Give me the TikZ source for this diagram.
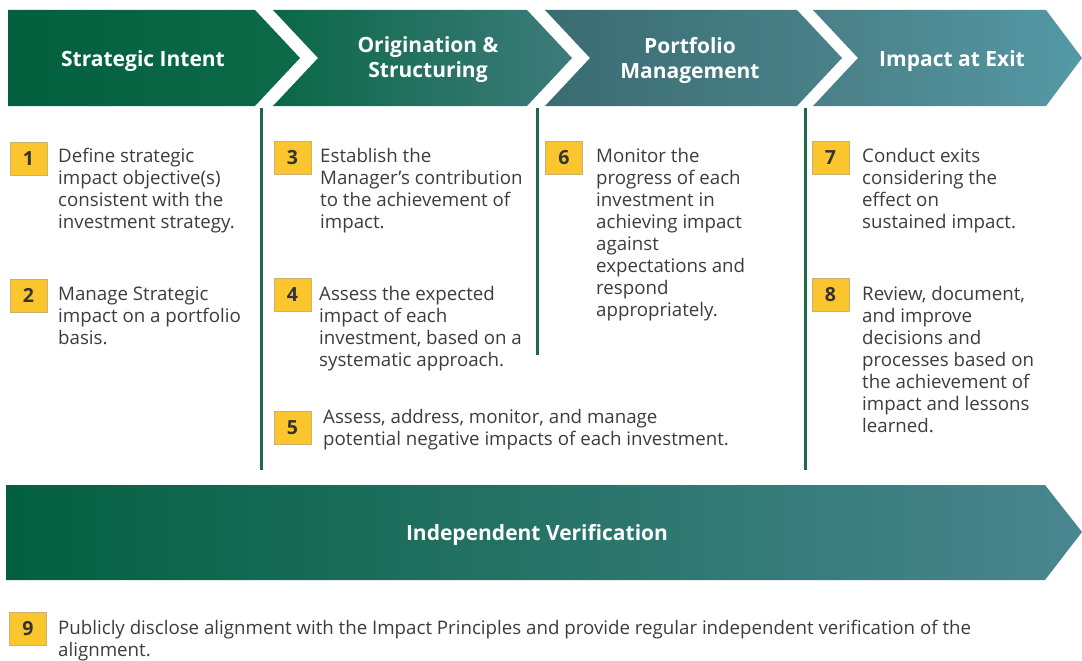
\documentclass[tikz,border=0pt]{standalone}
\usepackage{fontspec}
\setmainfont{Open Sans}
\definecolor{cAa}{HTML}{03603F}
\definecolor{cAb}{HTML}{0C6A48}
\definecolor{cBa}{HTML}{0A6846}
\definecolor{cBb}{HTML}{3E7B7C}
\definecolor{cCa}{HTML}{3A6C72}
\definecolor{cCb}{HTML}{4A8289}
\definecolor{cDa}{HTML}{4A7F86}
\definecolor{cDb}{HTML}{5499A6}
\definecolor{vfa}{HTML}{03603F}
\definecolor{vfb}{HTML}{4A8690}
\definecolor{boxyellow}{HTML}{FBC52E}
\definecolor{boxedge}{HTML}{C9B27A}
\definecolor{numgrey}{HTML}{333333}
\definecolor{bodygrey}{HTML}{3C3C3C}
\definecolor{rule}{HTML}{1C6A4C}
\tikzset{
  numbox/.style={fill=boxyellow, draw=boxedge, line width=0.8pt, minimum width=37pt, minimum height=33pt, inner sep=0pt, font=\fontsize{19.5}{19.5}\selectfont\bfseries, text=numgrey},
  body/.style={anchor=base west, align=left, inner sep=0pt, font=\fontsize{18.7}{22}\selectfont, text=bodygrey},
  head/.style={align=center, inner sep=0pt, font=\fontsize{21}{25}\selectfont\bfseries, text=white},
  colrule/.style={draw=rule, line width=3pt},
}
\begin{document}
\begin{tikzpicture}[x=1pt,y=-1pt]
\useasboundingbox (0,0) rectangle (1082,661);
% chevrons
\shade[left color=cAa, right color=cAb] (8,10) -- (255,10) -- (300,58) -- (255,106) -- (8,106) -- cycle;
\shade[left color=cBa, right color=cBb] (273,10) -- (527,10) -- (572,58) -- (527,106) -- (273,106) -- (318,58) -- cycle;
\shade[left color=cCa, right color=cCb] (545,10) -- (797,10) -- (842,58) -- (797,106) -- (545,106) -- (590,58) -- cycle;
\shade[left color=cDa, right color=cDb] (813,10) -- (1046,10) -- (1082,58) -- (1046,106) -- (813,106) -- (858,58) -- cycle;
\node[head] (h1) at (143,61) {Strategic Intent};
\node[head] (h2) at (428,60) {Origination \&\\Structuring};
\node[head] (h3) at (690,60) {Portfolio\\Management};
\node[head] (h4) at (952,61) {Impact at Exit};
% column rules
\coordinate (r1a) at (261,108); \coordinate (r1b) at (261,470);
\coordinate (r2a) at (537,108); \coordinate (r2b) at (537,355);
\coordinate (r3a) at (805,108); \coordinate (r3b) at (805,470);
\draw[colrule] (r1a) -- (r1b);
\draw[colrule] (r2a) -- (r2b);
\draw[colrule] (r3a) -- (r3b);
% items
\node[numbox] (n1) at (28.5,158.5) {1};
\node[body] (t1) at (58,228) {Define strategic\\impact objective(s)\\consistent with the\\investment strategy.};
\node[numbox] (n2) at (28.5,295.5) {2};
\node[body] (t2) at (58,344) {Manage Strategic\\impact on a portfolio\\basis.};
\node[numbox] (n3) at (292.5,157.5) {3};
\node[body] (t3) at (320,228) {Establish the\\Manager’s contribution\\to the achievement of\\impact.};
\node[numbox] (n4) at (292.5,295) {4};
\node[body] (t4) at (319,366) {Assess the expected\\impact of each\\investment, based on a\\systematic approach.};
\node[numbox] (n5) at (292.5,428) {5};
\node[body] (t5) at (323,445) {Assess, address, monitor, and manage\\potential negative impacts of each investment.};
\node[numbox] (n6) at (564,157.5) {6};
\node[body] (t6) at (596,316) {Monitor the\\progress of each\\investment in\\achieving impact\\against\\expectations and\\respond\\appropriately.};
\node[numbox] (n7) at (830.5,157.5) {7};
\node[body] (t7) at (862,228) {Conduct exits\\considering the\\effect on\\sustained impact.};
\node[numbox] (n8) at (830.5,295) {8};
\node[body] (t8) at (862,432) {Review, document,\\and improve\\decisions and\\processes based on\\the achievement of\\impact and lessons\\learned.};
% bottom banner
\shade[left color=vfa, right color=vfb] (6,485) -- (1045,485) -- (1082,532) -- (1045,580) -- (6,580) -- cycle;
\node[head] (hv) at (537,535) {Independent Verification};
\node[numbox] (n9) at (28,628.5) {9};
\node[body] (t9) at (58,656) {Publicly disclose alignment with the Impact Principles and provide regular independent verification of the\\alignment.};
\end{tikzpicture}
\end{document}
